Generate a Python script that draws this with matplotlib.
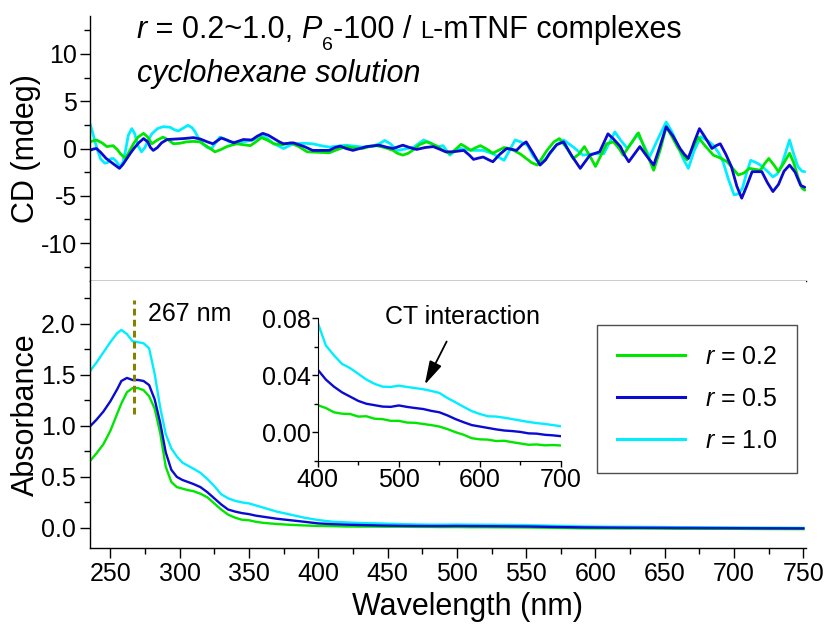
import numpy as np
import matplotlib
matplotlib.use('Agg')
import matplotlib.pyplot as plt
from matplotlib.ticker import MultipleLocator, FuncFormatter

plt.rcParams['font.family'] = ['Liberation Sans', 'DejaVu Sans']
plt.rcParams['mathtext.fontset'] = 'custom'
plt.rcParams['mathtext.rm'] = 'Liberation Sans'
plt.rcParams['mathtext.it'] = 'Liberation Sans:italic'
plt.rcParams['axes.unicode_minus'] = False

# ---------------- data ----------------
series_labels = [r'$\mathit{r}$ = 0.2', r'$\mathit{r}$ = 0.5', r'$\mathit{r}$ = 1.0']
series_colors = ['#00e600', '#0a0ad2', '#00eeff']

# CD spectra (mdeg)
cd_wl_02 = [235, 240, 244, 247.5, 252, 255, 257, 260.7, 263, 266.7, 270, 274, 277, 280, 284, 288, 292, 295.5, 300, 305,
            310, 314.7, 320, 325.5, 330, 334, 341, 346, 351, 355, 359, 363, 368, 374, 380, 386, 392, 400, 408, 414,
            420, 426, 432, 437, 442, 448, 454, 457, 461, 465, 468, 473, 478, 482, 485, 490, 495, 499, 503, 506, 510,
            513, 517, 522, 526, 530, 534, 538, 541, 546, 550, 554, 558, 561, 565, 570, 574, 579, 584, 588, 592, 596,
            600, 604, 608, 613, 617, 620, 625, 631, 636, 642, 647, 651, 655, 659, 662, 666, 670, 674, 679, 685, 690,
            695, 699, 703, 707, 711, 715, 719, 722, 725, 729, 732, 736, 740, 743, 746, 749, 751]
cd_02 = [0.7, 0.9, 0.6, 0.2, 0.3, -0.1, -0.5, -1.05, -0.5, 0.5, 1.2, 1.6, 1.2, 0.5, 0.9, 1.2, 0.9, 0.5, 0.55, 0.7,
         0.75, 0.7, 0.2, -0.35, -0.1, 0.2, 0.5, 0.4, 0.3, 0.7, 1.15, 0.9, 0.5, 0.4, 0.6, 0.2, -0.35, -0.4, -0.45, -0.1,
         0.2, 0.05, 0.0, 0.2, 0.3, 0.1, -0.2, -0.5, -0.7, -0.5, -0.2, 0.4, 0.7, 0.5, 0.3, -0.2, -0.55, -0.1, 0.45, 0.2,
         -0.2, 0.05, 0.3, -0.1, -0.5, -0.2, 0.1, 0.0, -0.2, -0.6, -1.05, -1.5, -1.75, -1.1, -0.2, 0.7, 1.05, 0.1,
         -1.05, -0.6, 0.2, -0.8, -1.9, -0.7, 0.5, 0.7, 0.0, -0.7, 0.4, 1.65, -0.2, -2.3, 0.0, 2.3, 1.3, 0.2, -0.5,
         -1.2, 0.0, 1.2, 0.3, -0.7, -1.0, -1.4, -2.1, -2.8, -2.6, -2.1, -2.2, -2.3, -1.6, -1.05, -1.8, -2.45, -1.5,
         -0.5, -1.5, -3.0, -4.2, -4.4]

cd_wl_05 = [235, 238, 240, 243, 247, 252, 256.6, 259, 262, 264.5, 267, 270.5, 274, 277, 279, 281, 284, 287, 291, 297,
            303, 310, 315, 320, 324, 327, 330, 334, 339, 343, 346, 352, 356, 360, 364, 368, 372, 375, 382, 390, 396,
            408, 412, 416, 420, 425, 430, 435, 444, 449, 454, 461, 466, 471, 477, 483, 488, 492, 497, 505, 509, 512,
            516, 519, 523, 526, 531, 536, 540, 543, 547, 550, 555, 560, 564, 567, 572, 577, 583, 589, 593, 596, 603,
            606, 609, 613, 618, 621, 624, 628, 632, 637, 642, 646, 651, 656, 661, 664, 667, 671, 675, 679, 684, 687,
            690, 694, 698, 702, 705.5, 709, 713, 720, 724, 728, 732, 736, 740, 744, 748, 751]
cd_05 = [-0.2, -0.05, 0.0, -0.4, -1.05, -1.6, -2.1, -1.7, -1.05, -0.5, 0.0, 0.6, 1.05, 0.7, 0.1, -0.2, 0.1, 0.6, 0.95,
         1.0, 1.05, 1.15, 1.0, 0.7, 0.5, 0.8, 1.1, 0.9, 0.6, 0.8, 0.95, 0.9, 1.3, 1.6, 1.4, 1.05, 0.7, 0.5, 0.6, 0.2,
         -0.2, -0.2, 0.1, 0.25, 0.0, -0.2, 0.0, 0.2, 0.35, 0.15, 0.0, 0.35, 0.1, -0.1, 0.1, 0.2, -0.1, -0.35, -0.35,
         -0.2, -0.7, -1.15, -1.0, -0.9, -1.2, -1.4, -0.6, 0.0, -0.1, -0.2, 0.4, 0.7, -0.5, -1.75, -1.2, -0.5, 0.4,
         0.7, -0.8, -2.1, -1.3, -0.7, -0.35, 0.6, 1.55, 1.0, 0.2, -0.7, -1.4, -0.6, 0.2, -0.8, -1.75, 0.0, 2.3, 1.3,
         0.0, -0.6, -1.05, 0.6, 2.1, 1.2, 0.0, 0.3, 0.5, -0.6, -1.9, -4.0, -5.25, -4.0, -2.45, -2.45, -3.6, -4.55,
         -3.8, -2.4, -1.75, -2.5, -3.9, -4.1]

cd_wl_10 = [235, 237, 240, 243, 246, 248, 250, 252, 254, 257, 259, 261, 263, 265.5, 267.5, 270, 272.5, 275, 277, 280,
            284, 288, 293, 296, 299, 302, 306, 309, 311, 314, 317, 320, 323, 326, 329, 332, 336, 341, 346, 353, 359,
            363, 368, 375, 382, 390, 396, 402, 408, 420, 432, 440, 444, 448, 452, 457, 463, 469, 476, 481, 485, 490,
            495, 499, 502, 512, 519, 526, 530, 534, 538, 542, 546, 551, 555, 560, 564, 567, 572, 577, 584, 591, 599,
            606, 610, 614, 618, 623, 627, 630, 634, 639, 645, 651, 655, 659, 663, 667, 671, 676, 681, 685, 689, 692,
            696, 700, 703, 706, 709, 712, 716, 719, 724, 728, 731, 734, 737, 740, 743, 746, 749, 751]
cd_10 = [2.8, 1.8, 0.2, -1.1, -1.55, -1.5, -1.1, -1.05, -1.3, -1.9, -1.5, -0.2, 1.4, 2.1, 1.6, 0.3, -0.35, 0.1, 0.8,
         1.55, 2.1, 2.3, 2.25, 2.0, 1.85, 2.1, 2.45, 2.2, 1.8, 1.0, 0.45, 0.1, 0.0, 0.6, 1.2, 1.05, 0.7, 0.65, 0.7,
         0.9, 1.4, 1.1, 0.5, 0.0, 0.5, 0.55, 0.5, 0.3, 0.15, 0.35, 0.15, 0.3, 0.5, 0.85, 0.5, -0.2, -0.05, 0.15, 0.9,
         0.6, 0.15, 0.3, -0.7, -0.2, 0.0, -0.2, -0.2, -0.55, -0.9, -1.25, -0.2, 0.9, 0.7, 0.35, -0.8, -1.6, -1.1,
         -0.55, 0.4, 0.9, 0.15, -0.7, -0.55, -0.55, 0.6, 1.75, 0.9, 0.0, 0.8, 1.55, 0.6, -0.9, 1.0, 2.8, 1.8, 0.5,
         -1.0, -2.1, -0.3, 1.25, 0.8, 0.35, -0.5, -1.4, -3.3, -4.9, -4.8, -4.2, -2.6, -1.25, -1.5, -1.75, -2.4, -3.0,
         -2.7, -1.9, -0.5, 0.9, -0.6, -1.9, -2.4, -2.45]

# Absorbance spectra
abs_wl = [235, 240, 245, 250, 255, 258, 262, 266, 270, 274, 278, 282, 286, 290, 294, 298, 302, 306, 310, 315, 320,
          325, 330, 335, 340, 345, 350, 355, 360, 370, 380, 390, 400, 410, 420, 430, 440, 450, 460, 470, 480, 490,
          500, 510, 520, 530, 540, 550, 560, 570, 580, 590, 600, 610, 620, 630, 640, 650, 660, 670, 680, 690, 700,
          725, 750]
abs_02 = [0.65, 0.73, 0.82, 0.95, 1.12, 1.22, 1.33, 1.37, 1.37, 1.35, 1.29, 1.17, 0.93, 0.60, 0.45, 0.40, 0.385, 0.37,
          0.36, 0.335, 0.30, 0.24, 0.18, 0.13, 0.10, 0.08, 0.075, 0.06, 0.05, 0.038, 0.030, 0.024, 0.019, 0.017, 0.014,
          0.013, 0.0128, 0.011, 0.0112, 0.0095, 0.0092, 0.0080, 0.0080, 0.0068, 0.0066, 0.0058, 0.0050, 0.0040, 0.0022,
          0.0, -0.0018, -0.0042, -0.0050, -0.0052, -0.0062, -0.0060, -0.0070, -0.0079, -0.0088, -0.0086, -0.0092,
          -0.0090, -0.0093, -0.011, -0.012]
abs_05 = [0.99, 1.06, 1.14, 1.24, 1.36, 1.44, 1.47, 1.45, 1.45, 1.44, 1.40, 1.26, 1.03, 0.74, 0.57, 0.50, 0.47, 0.45,
          0.43, 0.40, 0.35, 0.29, 0.23, 0.18, 0.16, 0.145, 0.135, 0.12, 0.11, 0.09, 0.075, 0.06, 0.044, 0.037, 0.032,
          0.028, 0.025, 0.022, 0.020, 0.019, 0.018, 0.0178, 0.0188, 0.0178, 0.0170, 0.0163, 0.0150, 0.0140, 0.0118,
          0.0092, 0.0070, 0.0050, 0.0040, 0.0030, 0.0020, 0.0012, 0.0008, 0.0002, -0.0008, -0.0010, -0.0018, -0.0022,
          -0.0028, -0.004, -0.005]
abs_10 = [1.53, 1.62, 1.72, 1.82, 1.91, 1.94, 1.90, 1.83, 1.82, 1.81, 1.76, 1.51, 1.18, 0.92, 0.78, 0.70, 0.64, 0.61,
          0.58, 0.54, 0.48, 0.41, 0.33, 0.29, 0.265, 0.25, 0.24, 0.22, 0.20, 0.16, 0.13, 0.10, 0.077, 0.061, 0.054,
          0.048, 0.045, 0.041, 0.037, 0.034, 0.032, 0.0318, 0.0327, 0.0318, 0.0310, 0.0302, 0.0290, 0.0276, 0.0240,
          0.0210, 0.0178, 0.0148, 0.0128, 0.0112, 0.0110, 0.0102, 0.0092, 0.0082, 0.0072, 0.0064, 0.0058, 0.0050,
          0.0042, 0.002, 0.0]

peak_nm = 267
peak_label = '267 nm'
ct_label = 'CT interaction'

# ---------------- figure ----------------
W, H = 830, 628
fig = plt.figure(figsize=(W / 100, H / 100), dpi=100)

left = 89.5 / W
right = 805.5 / W
y_mid = 1 - 281 / H
y_top = 1 - 16 / H
y_bot = 1 - 548.3 / H

ax1 = fig.add_axes([left, y_mid, right - left, y_top - y_mid])
ax2 = fig.add_axes([left, y_bot, right - left, y_mid - y_bot])

cd_sets = [(cd_wl_02, cd_02), (cd_wl_05, cd_05), (cd_wl_10, cd_10)]
abs_sets = [abs_02, abs_05, abs_10]
draw_order = [2, 0, 1]

for i in draw_order:
    ax1.plot(cd_sets[i][0], cd_sets[i][1], color=series_colors[i], lw=2.0,
             solid_joinstyle='round', solid_capstyle='round')
handles = [None] * 3
for i in draw_order:
    handles[i], = ax2.plot(abs_wl, abs_sets[i], color=series_colors[i], lw=1.7, label=series_labels[i],
                           solid_joinstyle='round')

xlim = (235, 751.5)
tick_fs = 18
label_fs = 22

# top panel
ax1.set_xlim(*xlim)
ax1.set_ylim(-14, 14)
ax1.spines['top'].set_visible(False)
ax1.spines['right'].set_visible(False)
ax1.yaxis.set_major_locator(MultipleLocator(5))
ax1.yaxis.set_minor_locator(MultipleLocator(2.5))
ax1.xaxis.set_major_locator(MultipleLocator(50))
ax1.xaxis.set_minor_locator(MultipleLocator(25))
ax1.tick_params(axis='x', which='both', direction='out', length=3, labelbottom=False, width=1)
ax1.tick_params(axis='y', which='major', direction='out', length=7, width=1, labelsize=tick_fs, pad=2)
ax1.tick_params(axis='y', which='minor', direction='out', length=4, width=1)
ax1.yaxis.set_major_formatter(FuncFormatter(lambda v, p: '%d' % v))
ax1.set_ylabel('CD (mdeg)', fontsize=label_fs)
ax1.yaxis.set_label_coords(-0.068, 0.5)

# bottom panel
ax2.set_xlim(*xlim)
ax2.set_ylim(-0.2, 2.42)
ax2.spines['top'].set_visible(False)
ax2.spines['right'].set_visible(False)
ax2.xaxis.set_major_locator(MultipleLocator(50))
ax2.xaxis.set_minor_locator(MultipleLocator(25))
ax2.yaxis.set_major_locator(MultipleLocator(0.5))
ax2.yaxis.set_minor_locator(MultipleLocator(0.25))
ax2.tick_params(which='major', direction='out', length=7, width=1, labelsize=tick_fs, pad=3)
ax2.tick_params(which='minor', direction='out', length=4, width=1)
ax2.yaxis.set_major_formatter(FuncFormatter(lambda v, p: '%.1f' % v))
ax2.set_ylabel('Absorbance', fontsize=label_fs)
ax2.yaxis.set_label_coords(-0.068, 0.5)
ax2.set_xlabel('Wavelength (nm)', fontsize=label_fs)
ax2.xaxis.set_label_coords(0.528, -0.165)

for ax in (ax1, ax2):
    for s in ax.spines.values():
        s.set_linewidth(1.0)

# peak marker
ax2.plot([peak_nm, peak_nm], [1.12, 2.23], color='#8a8000', lw=2.2, dashes=(2.2, 1.4))
ax2.text(277, 2.10, peak_label, fontsize=18, va='center', ha='left')

# legend
leg = ax2.legend(handles=handles, loc='upper left', bbox_to_anchor=(597 / W, 1 - 325 / H),
                 bbox_transform=fig.transFigure, borderaxespad=0, fontsize=18, frameon=True, fancybox=False,
                 handlelength=2.7, handletextpad=0.8, borderpad=0.8, labelspacing=0.72)
leg.get_frame().set_edgecolor('#222222')
leg.get_frame().set_linewidth(1.0)
for lh in leg.get_lines():
    lh.set_linewidth(2.2)

# inset
ins_l, ins_r = 317.7, 561
ins_t, ins_b = 318.3, 460.7
axi = fig.add_axes([ins_l / W, 1 - ins_b / H, (ins_r - ins_l) / W, (ins_b - ins_t) / H])
for i in draw_order:
    axi.plot(abs_wl, abs_sets[i], color=series_colors[i], lw=1.7)
axi.set_xlim(400, 700)
axi.set_ylim(-0.02, 0.08)
axi.spines['top'].set_visible(False)
axi.spines['right'].set_visible(False)
axi.xaxis.set_major_locator(MultipleLocator(100))
axi.xaxis.set_minor_locator(MultipleLocator(50))
axi.yaxis.set_major_locator(MultipleLocator(0.04))
axi.yaxis.set_minor_locator(MultipleLocator(0.02))
axi.tick_params(which='major', direction='out', length=4, width=1, labelsize=tick_fs, pad=1)
axi.tick_params(which='minor', direction='out', length=3, width=1)
axi.yaxis.set_major_formatter(FuncFormatter(lambda v, p: '%.2f' % v))
axi.patch.set_alpha(0)
axi.annotate('', xy=(532, 0.0334), xytext=(559, 0.0637),
             arrowprops=dict(arrowstyle='-|>,head_width=0.22,head_length=0.8', color='black', lw=1.3,
                             shrinkA=0, shrinkB=0, mutation_scale=18))
axi.text(579, 0.0812, ct_label, fontsize=18, ha='center', va='center', clip_on=False)

# title texts (chained pieces)
title_fs = 22
def chain(prev, s, size=title_fs, style='normal', dy=0):
    return ax1.annotate(s, xy=(1, 0), xycoords=prev, xytext=(0, dy), textcoords='offset points',
                        fontsize=size, fontstyle=style, ha='left', va='bottom')

t0 = fig.text(136.7 / W, 1 - 37.7 / H, 'r', fontsize=title_fs, fontstyle='italic', va='baseline', ha='left')
t1 = chain(t0, ' = 0.2~1.0, ')
t2 = chain(t1, 'P', style='italic')
t3 = chain(t2, '6', size=14, dy=-7)
t4 = chain(t3, '-100 / ', dy=7)
t5 = chain(t4, 'L', size=17, dy=1.5)
t6 = chain(t5, '-mTNF complexes', dy=-1.5)
fig.text(136.7 / W, 1 - 81.7 / H, 'cyclohexane solution', fontsize=title_fs, fontstyle='italic',
         va='baseline', ha='left')

fig.savefig('out.png', dpi=100)
